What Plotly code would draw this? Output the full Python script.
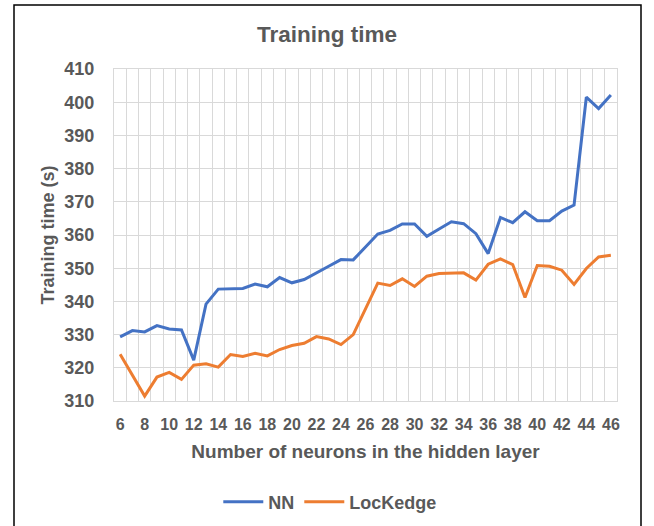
import plotly.graph_objects as go

# neurons in the hidden layer
neurons = list(range(6, 47))

nn_time = [329.3, 331.2, 330.8, 332.7, 331.7, 331.4, 322.3, 339.2, 343.7, 343.9,
           343.9, 345.2, 344.4, 347.2, 345.6, 346.6, 348.7, 350.6, 352.6, 352.5,
           356.4, 360.3, 361.4, 363.3, 363.3, 359.6, 361.8, 364.0, 363.4, 360.4,
           354.4, 365.3, 363.7, 367.0, 364.3, 364.3, 367.2, 369.0, 401.5, 398.1,
           402.2]

lockedge_time = [324.1, 317.7, 311.5, 317.2, 318.6, 316.5, 320.8, 321.2, 320.2, 324.0,
                 323.4, 324.4, 323.6, 325.5, 326.7, 327.4, 329.4, 328.7, 327.0, 330.0,
                 337.7, 345.5, 344.8, 346.8, 344.5, 347.6, 348.4, 348.6, 348.6, 346.4,
                 351.2, 352.8, 351.1, 341.2, 350.8, 350.6, 349.4, 345.1, 349.9, 353.4,
                 353.9]

series = [("NN", nn_time, "#4472C4"), ("LocKedge", lockedge_time, "#ED7D31")]

txt = "#595959"
grid = "#d9d9d9"
font = "Liberation Sans, Arial, sans-serif"

fig = go.Figure()
for name, vals, col in series:
    fig.add_trace(go.Scatter(x=neurons, y=vals, mode="lines", name="<b>%s</b>" % name,
                             line=dict(color=col, width=3)))

fig.update_layout(
    width=654, height=526,
    margin=dict(l=114, r=37, t=69, b=125, autoexpand=False),
    paper_bgcolor="white", plot_bgcolor="white",
    font=dict(family=font, color=txt, size=16),
    title=dict(text="<b>Training time</b>", x=0.5, xref="container", xanchor="center",
               y=1 - 34 / 526, yanchor="middle", font=dict(size=22.5, color=txt)),
    legend=dict(orientation="h", x=0.43, xanchor="center", y=-0.304, yanchor="middle",
                font=dict(size=18, color=txt), itemwidth=40, tracegroupgap=0),
    showlegend=True,
)

fig.update_xaxes(
    range=[5.5, 46.5],
    tickvals=list(range(6, 47, 2)),
    ticktext=["<b>%d</b>" % v for v in range(6, 47, 2)],
    tickfont=dict(size=16),
    showgrid=False,
    minor=dict(tick0=5.5, dtick=1, showgrid=True, gridcolor=grid, gridwidth=1),
    showline=True, mirror=True, linecolor=grid, linewidth=1,
    ticks="outside", ticklen=9, tickcolor="rgba(0,0,0,0)",
    zeroline=False, automargin=False,
    title=dict(text="<b>Number of neurons in the hidden layer</b>", standoff=12,
               font=dict(size=19, color=txt)),
)
fig.update_yaxes(
    range=[310, 410],
    tickvals=list(range(310, 411, 10)),
    ticktext=["<b>%d</b>" % v for v in range(310, 411, 10)],
    tickfont=dict(size=18),
    showgrid=True, gridcolor=grid, gridwidth=1,
    showline=True, mirror=True, linecolor=grid, linewidth=1,
    ticks="outside", ticklen=15, tickcolor="rgba(0,0,0,0)",
    zeroline=False, automargin=False,
    title=dict(text="<b>Training time (s)</b>", standoff=5,
               font=dict(size=18, color=txt)),
)

# outer chart border
fig.add_shape(type="rect", xref="paper", yref="paper",
              x0=(14 - 114) / 503, x1=(641 - 114) / 503,
              y0=-0.45, y1=(401 - 5) / 332,
              line=dict(color="black", width=1.5), fillcolor="rgba(0,0,0,0)", layer="below")

# drop the default body margin so the figure fills the window exactly
fig.write_html("out.html", config={"displayModeBar": False},
               post_script="document.body.style.margin='0';")
